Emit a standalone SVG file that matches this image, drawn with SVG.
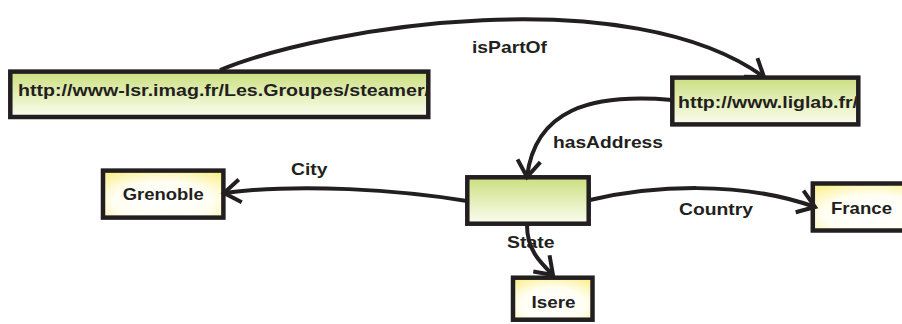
<svg xmlns="http://www.w3.org/2000/svg" width="902" height="324" viewBox="0 0 902 324">
  <style>
    .box { stroke: #231f20; stroke-width: 4.5; }
    .green { fill: url(#gGreen); }
    .yellow { fill: url(#gYellow); }
    .edge { fill: none; stroke: #231f20; stroke-width: 4; marker-end: url(#arrow); }
    text { font-family: "Liberation Sans", Arial, sans-serif; font-weight: bold; font-size: 17px; fill: #231f20; }
  </style>
  <defs>
    <linearGradient id="gGreen" x1="0" y1="0" x2="0" y2="1">
      <stop offset="0" stop-color="#cbde80"/>
      <stop offset="0.55" stop-color="#e6f0bd"/>
      <stop offset="1" stop-color="#fbfdf1"/>
    </linearGradient>
    <radialGradient id="gYellow" cx="0.5" cy="0.65" r="0.75">
      <stop offset="0" stop-color="#ffffff"/>
      <stop offset="0.55" stop-color="#fffef2"/>
      <stop offset="1" stop-color="#fbf08c"/>
    </radialGradient>
    <marker id="arrow" viewBox="0 0 30 30" refX="24" refY="15" markerWidth="30" markerHeight="30" markerUnits="userSpaceOnUse" orient="auto">
      <path d="M7.6,3.5 L24,15 L7.6,26.5" fill="none" stroke="#231f20" stroke-width="4"/>
    </marker>
    <clipPath id="clipSteamer"><rect x="12.5" y="74" width="415.5" height="41"/></clipPath>
    <clipPath id="clipLiglab"><rect x="674.5" y="80" width="182" height="42"/></clipPath>
  </defs>

  <g id="node-steamer">
    <rect class="box green" x="10.3" y="71.6" width="418" height="45.4"/>
    <text x="18" y="96" textLength="412" lengthAdjust="spacingAndGlyphs" clip-path="url(#clipSteamer)">http://www-lsr.imag.fr/Les.Groupes/steamer/</text>
  </g>
  <g id="node-liglab">
    <rect class="box green" x="672.3" y="77.6" width="186" height="46.8"/>
    <text x="678" y="108" textLength="180" lengthAdjust="spacingAndGlyphs" clip-path="url(#clipLiglab)">http://www.liglab.fr/</text>
  </g>
  <g id="node-address">
    <rect class="box green" x="467.3" y="177.3" width="121.4" height="46.4"/>
  </g>
  <g id="node-grenoble">
    <rect class="box yellow" x="103" y="170.6" width="120.4" height="47"/>
    <text x="122.7" y="200" textLength="81" lengthAdjust="spacingAndGlyphs">Grenoble</text>
  </g>
  <g id="node-france">
    <rect class="box yellow" x="812.8" y="183.5" width="120" height="47"/>
    <text x="831" y="213.5" textLength="61" lengthAdjust="spacingAndGlyphs">France</text>
  </g>
  <g id="node-isere">
    <rect class="box yellow" x="513" y="277.7" width="79.5" height="42"/>
    <text x="531.5" y="308" textLength="44" lengthAdjust="spacingAndGlyphs">Isere</text>
  </g>

  <g id="connectors">
    <path class="edge" d="M220,70 C330,25 630,-20 764,77"/>
    <path class="edge" d="M672,100 C590,93 535,110 527,177"/>
    <path class="edge" d="M467,201 C400,190 300,183 224,193"/>
    <path class="edge" d="M590,200 C650,186 740,180 815,207"/>
    <path class="edge" d="M527,225 C527,250 540,262 553,275"/>
    <text x="472" y="52.5" textLength="75" lengthAdjust="spacingAndGlyphs">isPartOf</text>
    <text x="553" y="148" textLength="110" lengthAdjust="spacingAndGlyphs">hasAddress</text>
    <text x="291" y="175" textLength="36.5" lengthAdjust="spacingAndGlyphs">City</text>
    <text x="679" y="215" textLength="74" lengthAdjust="spacingAndGlyphs">Country</text>
    <text x="507" y="248" textLength="47.5" lengthAdjust="spacingAndGlyphs">State</text>
  </g>
</svg>
